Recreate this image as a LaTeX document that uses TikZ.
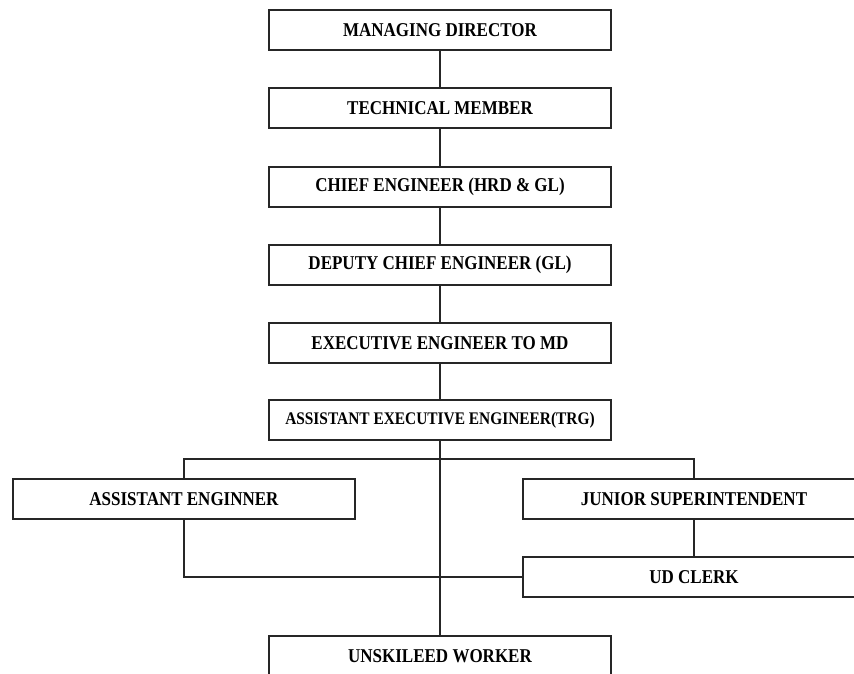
\documentclass[tikz,border=0pt]{standalone}
\usepackage{fontspec}
\setmainfont{Liberation Serif}
\newcommand\tallt[1]{\scalebox{1}[1.15]{#1}}
\begin{document}
\begin{tikzpicture}[x=1pt,y=-1pt,
  post/.style={draw=black!85, line width=2pt, rectangle, fill=white,
    minimum width=342pt, minimum height=40pt, inner sep=0pt,
    font=\bfseries\fontsize{17}{20}\selectfont},
  link/.style={draw=black!85, line width=2pt}]
\clip (0,0) rectangle (854,673);
\fill[white] (0,0) rectangle (854,673);
\node[post] (md)  at (440,30)  {\tallt{MANAGING DIRECTOR}};
\node[post] (tm)  at (440,108) {\tallt{TECHNICAL MEMBER}};
\node[post] (ce)  at (440,187) {\tallt{CHIEF ENGINEER (HRD \& GL)}};
\node[post] (dce) at (440,265) {\tallt{DEPUTY CHIEF ENGINEER (GL)}};
\node[post] (ee)  at (440,343) {\tallt{EXECUTIVE ENGINEER TO MD}};
\node[post, font=\bfseries\fontsize{15.4}{18}\selectfont] (aee) at (440,420) {\tallt{ASSISTANT EXECUTIVE ENGINEER(TRG)}};
\node[post] (ae)  at (184,499) {\tallt{ASSISTANT ENGINNER}};
\node[post] (js)  at (694,499) {\tallt{JUNIOR SUPERINTENDENT}};
\node[post] (ud)  at (694,577) {\tallt{UD CLERK}};
\node[post] (uw)  at (440,656) {\tallt{UNSKILEED WORKER}};
\coordinate (bar) at (440,459);
\draw[link] (md) -- (tm);
\draw[link] (tm) -- (ce);
\draw[link] (ce) -- (dce);
\draw[link] (dce) -- (ee);
\draw[link] (ee) -- (aee);
\draw[link] (aee.south) -- (aee.south |- uw.north);
\draw[link] (ae.north) |- (bar) -| (js.north);
\draw[link] (ae.south) |- (ud.west);
\draw[link] (js.south) -- (js.south |- ud.north);
\end{tikzpicture}
\end{document}
